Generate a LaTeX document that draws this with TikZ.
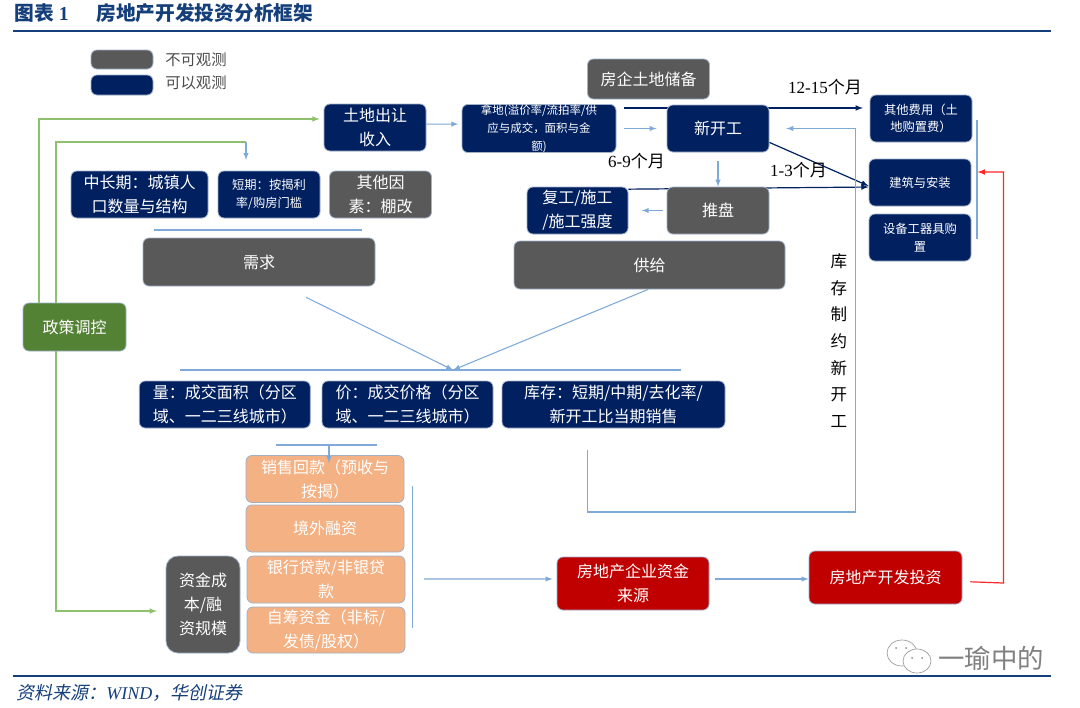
\documentclass[tikz,border=0pt]{standalone}
\usepackage{fontspec}
\setmainfont{Noto Sans CJK SC}
\newfontfamily\latinfont{Liberation Serif}
\newfontfamily\slantfont[FakeSlant=0.2]{Noto Sans CJK SC}
\usetikzlibrary{backgrounds}
\definecolor{navy}{HTML}{002060}
\definecolor{slate}{HTML}{595959}
\definecolor{peach}{HTML}{F4B183}
\definecolor{crimson}{HTML}{C00000}
\definecolor{leaf}{HTML}{548235}
\definecolor{titleblue}{HTML}{153F7A}
\definecolor{wire}{HTML}{7FA9D8}
\definecolor{sprout}{HTML}{8FC06E}
\definecolor{rim}{HTML}{9FB0C8}
\begin{document}
\begin{tikzpicture}[x=0.75pt, y=-0.75pt,
    box/.style={draw=rim, line width=0.6pt, rounded corners=4.5pt, inner sep=0pt,
      align=center, text=white},
    sized/.style 2 args={minimum width=#1*0.75pt, minimum height=#2*0.75pt},
    bigtext/.style={font=\fontsize{12}{18}\selectfont},
    smalltext/.style={font=\fontsize{9.2}{13}\selectfont},
    navybox/.style={box, fill=navy, bigtext},
    greybox/.style={box, fill=slate, bigtext},
    peachbox/.style={box, fill=peach, bigtext},
    redbox/.style={box, fill=crimson, bigtext},
    blueline/.style={draw=wire, line width=0.8pt},
    bluearrow/.style={blueline, ->, >=latex},
    darkarrow/.style={draw=navy, line width=0.9pt, ->, >=latex},
    greenline/.style={draw=sprout, line width=0.9pt},
    greenarrow/.style={greenline, ->, >=latex},
    redarrow/.style={draw=red!85!white, line width=0.9pt, ->, >=latex},
    flush/.style={anchor=west, inner sep=0pt},
    rule/.style={draw=titleblue, line width=1.9pt}]
  \useasboundingbox (0,0) rectangle (1080,707);

  \node[flush, text=titleblue, font=\fontsize{14.8}{18}\bfseries\selectfont] (caption) at (14.5,13)
    {图表 {\latinfont\bfseries 1}};
  \node[flush, text=titleblue, font=\fontsize{14.8}{18}\bfseries\selectfont] (title) at (96,13)
    {房地产开发投资分析框架};
  \node[flush, text=titleblue, font=\fontsize{13.5}{16}\selectfont] (source) at (16,693)
    {\slantfont 资料来源：{\latinfont\itshape WIND}，华创证券};

  \coordinate (ruleal) at (13,31); \coordinate (ruleam) at (1051,31);
  \coordinate (rulebl) at (13,676); \coordinate (rulebm) at (1051,676);
  \draw[rule] (ruleal) -- (ruleam);
  \draw[rule] (rulebl) -- (rulebm);

  \begin{scope}[every node/.style={greybox}]
    \node[sized={62}{19}] (keygrey) at (122,59.5) {};
    \node[sized={102}{47}] (other) at (380.5,194.5) {其他因\\素：棚改};
    \node[sized={232}{48}] (demand) at (259,262) {需求};
    \node[sized={122}{40}] (reserve) at (648.5,79) {房企土地储备};
    \node[sized={102}{47}] (launch) at (718,210.5) {推盘};
    \node[sized={271}{48}] (supply) at (649.5,265) {供给};
    \node[sized={74}{97}, rounded corners=9pt] (cost) at (203,604.5) {资金成\\本/融\\资规模};
  \end{scope}
  \begin{scope}[every node/.style={navybox}]
    \node[sized={62}{20}] (keynavy) at (122,85) {};
    \node[sized={102}{47}] (land) at (375,127.5) {土地出让\\收入};
    \node[sized={137}{47}] (longterm) at (139.5,194.5) {中长期：城镇人\\口数量与结构};
    \node[sized={102}{47}, smalltext] (shortterm) at (269,194.5) {短期：按揭利\\率/购房门槛};
    \node[sized={154}{47}, font=\fontsize{8.6}{13.5}\selectfont] (nade) at (539,128.5)
      {拿地(溢价率/流拍率/供\\应与成交，面积与金\\额)};
    \node[sized={102}{47}] (start) at (718,128.5) {新开工};
    \node[sized={102}{47}, smalltext] (fee) at (921,118.5) {其他费用（土\\地购置费）};
    \node[sized={102}{47}, smalltext] (build) at (920,182.5) {建筑与安装};
    \node[sized={102}{47}, smalltext] (equip) at (920,237.5) {设备工器具购\\置};
    \node[sized={101}{47}] (rework) at (577.5,210.5) {复工/施工\\/施工强度};
    \node[sized={171}{47}] (volume) at (224.75,404.5) {量：成交面积（分区\\域、一二三线城市）};
    \node[sized={171}{47}] (price) at (407.5,404.5) {价：成交价格（分区\\域、一二三线城市）};
    \node[sized={223}{47}] (stock) at (613.5,404.5) {库存：短期/中期/去化率/\\新开工比当期销售};
  \end{scope}
  \begin{scope}[every node/.style={peachbox}]
    \node[sized={158}{47}] (sale) at (325,479) {销售回款（预收与\\按揭）};
    \node[sized={158}{47}] (abroad) at (325,528.5) {境外融资};
    \node[sized={158}{47}] (bank) at (326,579.5) {银行贷款/非银贷\\款};
    \node[sized={158}{46}] (self) at (326,630) {自筹资金（非标/\\发债/股权）};
  \end{scope}
  \begin{scope}[every node/.style={redbox}]
    \node[sized={152}{53}] (funds) at (633,583.5) {房地产企业资金\\来源};
    \node[sized={153}{53}] (invest) at (885.5,577.5) {房地产开发投资};
  \end{scope}
  \node[box, fill=leaf, bigtext, sized={103}{48}] (policy) at (74.5,327) {政策调控};

  \node[flush, text=black!70, font=\fontsize{11.5}{14}\selectfont] (keygreytext) at (165,59.5) {不可观测};
  \node[flush, text=black!70, font=\fontsize{11.5}{14}\selectfont] (keynavytext) at (165,83) {可以观测};

  \coordinate (greenone) at (39,119); \coordinate (greentwo) at (56,142);
  \coordinate (shortdrop) at (246,142);
  \coordinate (demleft) at (154,230); \coordinate (demright) at (362,230);
  \coordinate (midleft) at (180,370); \coordinate (midright) at (680.5,370);
  \coordinate (merge) at (453,370);
  \coordinate (saleleft) at (275.5,445); \coordinate (saleright) at (377,445);
  \coordinate (saledrop) at (329,445); \coordinate (saletip) at (329,463);
  \coordinate (fundtop) at (412.5,486); \coordinate (fundbot) at (412.5,628);
  \coordinate (fundout) at (424,579);
  \coordinate (bracetop) at (977,120); \coordinate (bracebot) at (977,239);
  \coordinate (stockcorner) at (855.5,512);
  \coordinate (redcorner) at (1003.5,583); \coordinate (redtip) at (977.5,172);

  \begin{scope}[on background layer]
    \draw[greenarrow, shorten >=3pt] (policy.north -| greenone) |- ([yshift=6.4pt]land.west);
    \draw[greenline] (policy.north -| greentwo) |- (shortdrop);
    \draw[bluearrow, shorten >=8pt] (shortdrop) -- (shortdrop |- shortterm.north);
    \draw[greenarrow, shorten >=6.5pt] (policy.south -| greentwo) |- ([yshift=-4.9pt]cost.west);

    \draw[darkarrow, shorten <=6pt, shorten >=5pt] ([yshift=15.4pt]nade.east) -- ([yshift=7.9pt]fee.west);
    \draw[darkarrow] ([yshift=7.5pt]start.south east) -- ([yshift=-2.6pt]build.west);
    \draw[darkarrow] ([yshift=16pt]rework.east) -- ([yshift=-3.4pt]build.west);

    \draw[bluearrow, shorten >=2.5pt] ([yshift=2.6pt]land.east) -- ([yshift=3.3pt]nade.west);
    \draw[bluearrow, shorten <=6pt, shorten >=7.5pt] (nade.east) -- (start.west);
    \draw[bluearrow, shorten <=6.75pt] (start.south) -- (launch.north);
    \draw[bluearrow, shorten <=3pt, shorten >=10pt] (launch.west) -- (rework.east);
    \draw[bluearrow, shorten <=16.5pt, shorten >=12.7pt] ([xshift=-19.4pt]stock.south) |- (stockcorner) |- (start.east);

    \draw[blueline] (demleft) -- (demright);
    \draw[blueline] (midleft) -- (midright);
    \draw[bluearrow, shorten <=18.5pt] ([xshift=18.75pt]demand.south) -- (merge);
    \draw[bluearrow] ([xshift=-1pt]supply.south) -- (merge);
    \draw[blueline] (saleleft) -- (saleright);
    \draw[blueline] (fundtop) -- (fundbot);
    \draw[bluearrow, shorten >=3pt] (fundout) -- ([yshift=3.4pt]funds.west);
    \draw[bluearrow, shorten <=4pt] ([yshift=3.4pt]funds.east) -- ([yshift=-1.1pt]invest.west);
    \draw[blueline] (bracetop) -- (bracebot);
    \draw[redarrow, shorten <=6pt] ([yshift=-3pt]invest.east) -- (redcorner) |- (redtip);
  \end{scope}
  \draw[bluearrow] (saledrop) -- (saletip);

  \begin{scope}[every node/.style={text=black, font=\fontsize{12.75}{15}\selectfont}]
    \node (longlag) at (825,87) {{\latinfont 12-15}个月};
    \node (midlag) at (636.5,161) {{\latinfont 6-9}个月};
    \node (shortlag) at (798.5,170) {{\latinfont 1-3}个月};
    \node[align=center, font=\fontsize{12.4}{20}\selectfont] (limit) at (839,340.5)
      {库\\存\\制\\约\\新\\开\\工};
  \end{scope}

  \draw[black!40, line width=0.5pt, fill=white] (902,653) ellipse [x radius=15, y radius=13];
  \draw[black!40, line width=0.5pt, fill=white] (917,661) ellipse [x radius=14, y radius=12];
  \foreach \dotx/\doty in {896/648, 906/648, 912/658, 922/658}
    \fill[black!45] (\dotx,\doty) circle [radius=1];
  \node[flush, text=black!50, font=\fontsize{19.8}{24}\selectfont] (stamp) at (938,658) {一瑜中的};
\end{tikzpicture}
\end{document}
